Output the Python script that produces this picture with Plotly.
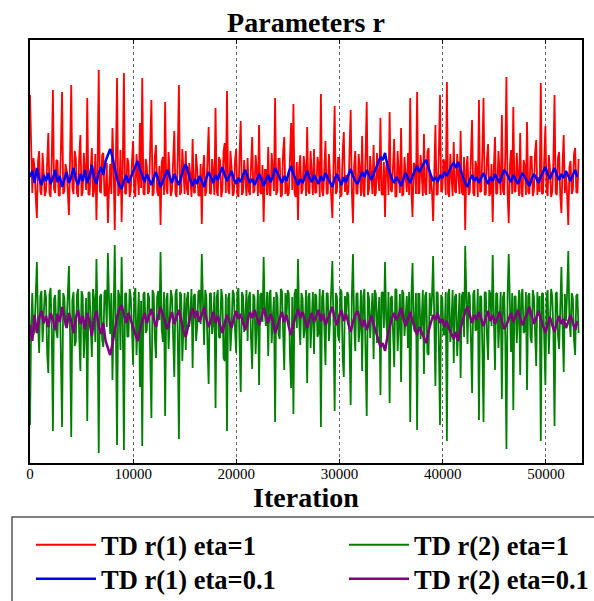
import numpy as np
import plotly.graph_objects as go

# ---------------- data (arbitrary units) ----------------
fine_step = 111          # iterations between samples of the eta=1 series
coarse_step = 222        # iterations between samples of the eta=0.1 series

x_tick_values = [0, 10000, 20000, 30000, 40000, 50000]
x_tick_labels = ["0", "10000", "20000", "30000", "40000", "50000"]

td_r1_eta1 = [
    3.68, 2.98, 2.70, 3.05, 2.95, 2.66, 2.45, 3.02, 3.12, 2.72, 2.68, 3.10, 2.90, 2.67, 2.72, 3.06, 3.30, 2.70, 2.66, 3.04,
    3.73, 2.74, 2.70, 3.03, 3.02, 2.68, 2.67, 3.15, 3.71, 2.69, 2.72, 2.99, 2.92, 2.71, 2.48, 3.06, 3.78, 2.75, 2.69, 3.12,
    3.05, 2.70, 2.66, 3.07, 3.28, 2.67, 2.71, 3.10, 2.88, 2.73, 3.65, 2.69, 2.68, 3.02, 3.15, 2.66, 2.73, 3.09, 2.43, 2.96,
    3.93, 2.72, 2.70, 3.08, 3.10, 2.68, 2.67, 3.00, 2.40, 2.74, 2.99, 2.69, 3.35, 2.95, 2.33, 3.03, 3.85, 2.67, 2.71, 3.13,
    2.41, 2.98, 3.90, 2.70, 2.69, 3.05, 3.00, 2.66, 2.72, 3.01, 3.22, 2.71, 2.66, 3.09, 2.93, 2.68, 3.40, 2.75, 3.85, 2.70,
    2.68, 3.04, 2.97, 2.69, 2.72, 3.12, 3.63, 2.67, 2.70, 3.07, 3.18, 2.72, 2.67, 2.97, 2.38, 3.01, 3.06, 2.68, 3.61, 2.74,
    2.69, 3.11, 2.90, 2.67, 2.73, 3.08, 3.32, 2.70, 2.66, 3.05, 3.78, 2.68, 2.71, 3.14, 2.95, 2.69, 3.12, 2.74, 2.68, 3.00,
    2.87, 2.66, 3.24, 2.71, 2.70, 3.09, 2.94, 2.68, 2.67, 2.99, 2.39, 2.94, 3.08, 2.67, 2.72, 3.10, 3.36, 2.70, 2.69, 3.04,
    2.91, 2.68, 3.55, 2.72, 2.67, 3.06, 3.02, 2.66, 2.73, 3.11, 3.20, 2.70, 3.72, 2.73, 2.69, 3.12, 2.96, 2.67, 2.70, 3.02,
    3.14, 2.69, 2.66, 3.09, 3.42, 2.68, 2.71, 3.03, 2.89, 2.67, 3.05, 2.72, 2.68, 3.07, 3.26, 2.70, 2.72, 3.08, 2.93, 2.67,
    3.38, 2.71, 2.69, 2.98, 2.41, 2.93, 2.93, 2.68, 3.16, 2.70, 2.67, 3.10, 2.88, 2.72, 3.65, 2.68, 2.72, 3.04, 3.04, 2.66,
    2.68, 3.11, 3.26, 2.69, 2.86, 2.67, 2.70, 3.12, 3.40, 2.73, 3.59, 2.70, 2.66, 3.01, 2.43, 2.96, 3.08, 2.69, 2.73, 3.07,
    2.95, 2.67, 3.36, 2.72, 2.69, 3.12, 2.87, 2.68, 3.14, 2.70, 2.71, 3.06, 2.99, 2.66, 3.69, 2.72, 2.67, 3.03, 3.22, 2.69,
    2.70, 3.09, 2.91, 2.67, 2.45, 2.99, 3.57, 2.69, 2.72, 3.05, 3.05, 2.66, 2.68, 3.10, 3.31, 2.71, 2.88, 2.68, 2.71, 3.11,
    3.53, 2.72, 2.40, 2.97, 3.12, 2.70, 2.69, 3.09, 2.94, 2.67, 3.27, 2.71, 2.66, 3.07, 3.61, 2.68, 2.73, 3.07, 2.90, 2.69,
    3.18, 2.67, 2.70, 3.10, 2.85, 2.72, 3.45, 2.69, 2.68, 3.01, 2.46, 2.96, 3.02, 2.68, 3.51, 2.73, 2.71, 3.08, 3.24, 2.66,
    2.67, 3.12, 2.92, 2.70, 3.35, 2.67, 2.69, 3.06, 2.87, 2.71, 3.10, 2.68, 3.65, 2.72, 2.46, 3.00, 2.98, 2.69, 3.71, 2.70,
    2.70, 3.08, 2.90, 2.67, 3.29, 2.71, 2.68, 3.11, 3.15, 2.69, 2.86, 2.72, 2.42, 2.98, 3.38, 2.68, 2.69, 3.10, 3.68, 2.71,
    2.73, 3.04, 3.00, 2.68, 3.81, 2.70, 2.66, 3.09, 2.93, 2.67, 3.21, 2.72, 2.70, 3.09, 2.88, 2.69, 3.32, 2.71, 2.68, 3.06,
    2.33, 2.95, 3.07, 2.68, 2.71, 3.09, 3.43, 2.70, 2.67, 3.02, 2.95, 2.66, 3.63, 2.71, 2.72, 3.11, 3.65, 2.68, 2.69, 3.05,
    3.19, 2.67, 2.70, 2.99, 2.41, 2.94, 3.26, 2.69, 2.70, 3.12, 2.92, 2.68, 3.48, 2.72, 2.68, 3.07, 3.86, 2.70, 2.40, 2.97,
    3.13, 2.69, 3.56, 2.72, 2.71, 3.10, 2.87, 2.67, 3.30, 2.70, 2.66, 3.03, 2.97, 2.68, 3.41, 2.71, 2.69, 3.06, 3.06, 2.67,
    2.72, 3.10, 3.23, 2.68, 2.86, 2.71, 3.80, 2.69, 2.70, 3.08, 3.37, 2.72, 2.67, 3.08, 2.94, 2.66, 2.71, 3.02, 3.68, 2.70,
    2.68, 3.05, 3.11, 2.67, 2.50, 2.98, 3.28, 2.70, 2.90, 2.68, 2.38, 2.96, 3.02, 2.69, 2.73, 3.09, 3.15, 2.71, 2.70, 3.04,
]

td_r1_eta01 = [
    2.86, 2.92, 2.80, 2.95, 2.84, 2.78, 2.88, 2.82, 2.90, 2.79,
    2.85, 2.93, 2.81, 2.87, 2.76, 2.83, 2.91, 2.80, 2.86, 2.95,
    2.84, 2.78, 2.89, 2.82, 2.93, 2.80, 2.87, 2.98, 2.85, 2.79,
    2.90, 2.96, 2.88, 3.02, 3.08, 3.14, 3.06, 2.95, 2.84, 2.78,
    2.74, 2.82, 2.88, 2.80, 2.86, 2.92, 2.97, 3.02, 2.94, 2.87,
    2.81, 2.89, 2.84, 2.78, 2.85, 2.91, 2.83, 2.76, 2.82, 2.88,
    2.93, 2.86, 2.80, 2.89, 2.84, 2.78, 2.86, 2.94, 2.99, 2.90,
    2.83, 2.77, 2.84, 2.79, 2.87, 2.82, 2.76, 2.85, 2.91, 2.86,
    2.80, 2.88, 2.83, 2.90, 2.96, 2.88, 2.82, 2.87, 2.92, 2.84,
    2.79, 2.85, 2.81, 2.88, 2.93, 2.86, 2.80, 2.84, 2.78, 2.83,
    2.89, 2.84, 2.77, 2.83, 2.88, 2.81, 2.86, 2.95, 2.90, 2.84,
    2.80, 2.87, 2.82, 2.91, 2.97, 2.89, 2.83, 2.78, 2.84, 2.80,
    2.86, 2.92, 2.85, 2.81, 2.88, 2.83, 2.79, 2.87, 2.82, 2.90,
    2.85, 2.80, 2.76, 2.84, 2.89, 2.83, 2.78, 2.86, 2.81, 2.88,
    2.94, 2.87, 2.82, 2.79, 2.85, 2.91, 2.86, 2.93, 2.88, 2.83,
    2.89, 2.95, 3.01, 3.06, 3.03, 3.10, 2.98, 2.90, 2.84, 2.80,
    2.86, 2.82, 2.77, 2.84, 2.90, 2.85, 2.80, 2.87, 2.93, 2.97,
    2.91, 2.96, 3.00, 3.03, 2.94, 2.88, 2.82, 2.86, 2.81, 2.88,
    2.85, 2.91, 2.87, 2.93, 2.97, 3.00, 2.95, 3.01, 2.92, 2.86,
    2.80, 2.76, 2.83, 2.88, 2.82, 2.86, 2.80, 2.85, 2.90, 2.84,
    2.79, 2.86, 2.82, 2.89, 2.84, 2.80, 2.87, 2.93, 2.90, 2.85,
    2.81, 2.88, 2.83, 2.79, 2.85, 2.90, 2.86, 2.82, 2.77, 2.84,
    2.89, 2.85, 2.80, 2.86, 2.92, 2.96, 2.89, 2.84, 2.90, 2.95,
    2.88, 2.83, 2.89, 2.85, 2.92, 2.87, 2.82, 2.88, 2.93, 2.86,
]

td_r2_eta1 = [
    0.38, 1.38, 1.70, 1.28, 1.33, 1.74, 2.01, 1.40, 1.10, 1.67, 1.72, 1.21, 1.44, 1.73, 1.66, 1.09, 0.90, 1.69, 1.75, 1.33,
    0.32, 1.64, 1.68, 1.31, 1.25, 1.72, 1.73, 0.98, 0.36, 1.70, 1.65, 1.37, 1.40, 1.68, 1.97, 1.27, 0.26, 1.63, 1.71, 1.17,
    1.21, 1.69, 1.74, 1.25, 0.92, 1.72, 1.67, 1.05, 1.46, 1.65, 0.42, 1.70, 1.71, 1.32, 1.06, 1.74, 1.64, 1.21, 2.04, 1.46,
    0.10, 1.66, 1.69, 1.23, 1.16, 1.71, 1.73, 1.36, 2.10, 1.64, 1.29, 1.70, 0.83, 1.48, 2.18, 1.32, 0.18, 1.73, 1.67, 1.13,
    2.06, 1.38, 0.13, 1.69, 1.70, 1.26, 1.27, 1.74, 1.66, 1.35, 0.98, 1.67, 1.75, 1.08, 1.37, 1.71, 0.76, 1.62, 0.17, 1.69,
    1.71, 1.30, 1.33, 1.70, 1.65, 1.04, 0.45, 1.73, 1.69, 1.25, 1.05, 1.66, 1.72, 1.43, 2.11, 1.34, 1.21, 1.71, 0.47, 1.63,
    1.70, 1.14, 1.43, 1.73, 1.66, 1.19, 0.86, 1.69, 1.74, 1.28, 0.24, 1.71, 1.68, 1.02, 1.35, 1.70, 1.13, 1.64, 1.71, 1.36,
    1.47, 1.74, 0.95, 1.67, 1.69, 1.22, 1.37, 1.71, 1.73, 1.39, 2.09, 1.47, 1.18, 1.73, 1.66, 1.18, 0.79, 1.69, 1.70, 1.29,
    1.41, 1.71, 0.55, 1.66, 1.73, 1.26, 1.25, 1.74, 1.65, 1.05, 1.02, 1.69, 0.32, 1.65, 1.70, 1.12, 1.34, 1.73, 1.69, 1.34,
    1.10, 1.70, 1.75, 1.20, 0.71, 1.71, 1.67, 1.31, 1.44, 1.73, 1.22, 1.66, 1.71, 1.24, 0.94, 1.69, 1.66, 1.09, 1.38, 1.73,
    0.78, 1.68, 1.70, 1.41, 2.06, 1.50, 1.37, 1.71, 1.07, 1.69, 1.73, 1.20, 1.45, 1.66, 0.41, 1.71, 1.66, 1.29, 1.24, 1.74,
    1.72, 1.17, 0.93, 1.70, 1.47, 1.73, 1.69, 1.06, 0.75, 1.66, 0.49, 1.69, 1.74, 1.35, 2.04, 1.43, 1.18, 1.70, 1.65, 1.25,
    1.35, 1.73, 0.80, 1.66, 1.70, 1.15, 1.46, 1.71, 1.09, 1.69, 1.67, 1.26, 1.30, 1.74, 0.36, 1.66, 1.73, 1.30, 0.98, 1.70,
    1.69, 1.22, 1.41, 1.73, 2.02, 1.38, 0.52, 1.70, 1.66, 1.27, 1.22, 1.74, 1.71, 1.06, 0.86, 1.67, 1.45, 1.71, 1.68, 1.18,
    0.58, 1.66, 2.09, 1.40, 1.12, 1.69, 1.70, 1.21, 1.36, 1.73, 0.92, 1.67, 1.74, 1.10, 0.47, 1.71, 1.65, 1.25, 1.42, 1.70,
    1.04, 1.73, 1.69, 1.20, 1.49, 1.66, 0.68, 1.70, 1.71, 1.35, 2.01, 1.44, 1.26, 1.71, 0.60, 1.65, 1.67, 1.24, 0.96, 1.74,
    1.73, 1.12, 1.39, 1.69, 0.81, 1.73, 1.70, 1.27, 1.46, 1.67, 1.15, 1.71, 0.41, 1.66, 2.00, 1.36, 1.31, 1.70, 0.33, 1.69,
    1.69, 1.24, 1.42, 1.73, 0.89, 1.67, 1.71, 1.10, 1.08, 1.70, 1.47, 1.66, 2.07, 1.38, 0.77, 1.71, 1.70, 1.17, 0.38, 1.68,
    1.65, 1.29, 1.28, 1.71, 0.22, 1.69, 1.74, 1.21, 1.38, 1.73, 1.00, 1.66, 1.69, 1.07, 1.45, 1.70, 0.85, 1.67, 1.71, 1.26,
    2.17, 1.45, 1.19, 1.71, 1.67, 1.23, 0.70, 1.69, 1.73, 1.32, 1.35, 1.74, 0.43, 1.67, 1.66, 1.15, 0.41, 1.71, 1.70, 1.27,
    1.03, 1.73, 1.69, 1.37, 2.08, 1.48, 0.93, 1.70, 1.69, 1.15, 1.39, 1.71, 0.64, 1.66, 1.71, 1.25, 0.14, 1.69, 2.09, 1.40,
    1.11, 1.70, 0.53, 1.66, 1.67, 1.20, 1.46, 1.73, 0.88, 1.69, 1.74, 1.30, 1.32, 1.71, 0.73, 1.67, 1.70, 1.26, 1.20, 1.73,
    1.66, 1.18, 0.97, 1.71, 1.47, 1.67, 0.22, 1.70, 1.69, 1.24, 0.78, 1.66, 1.73, 1.09, 1.36, 1.74, 1.67, 1.31, 0.37, 1.69,
    1.71, 1.28, 1.14, 1.73, 1.96, 1.38, 0.91, 1.69, 1.42, 1.71, 2.12, 1.42, 1.26, 1.70, 1.65, 1.23, 1.08, 1.67, 1.69, 1.30,
]

td_r2_eta01 = [
    1.38, 1.22, 1.48, 1.30, 1.45, 1.52, 1.40, 1.47, 1.36, 1.50,
    1.44, 1.33, 1.49, 1.41, 1.56, 1.46, 1.35, 1.50, 1.42, 1.30,
    1.45, 1.53, 1.39, 1.47, 1.34, 1.50, 1.41, 1.27, 1.44, 1.52,
    1.37, 1.29, 1.40, 1.22, 1.14, 1.08, 1.19, 1.32, 1.46, 1.54,
    1.58, 1.48, 1.40, 1.50, 1.43, 1.35, 1.29, 1.22, 1.33, 1.42,
    1.50, 1.40, 1.46, 1.54, 1.44, 1.36, 1.47, 1.56, 1.48, 1.40,
    1.34, 1.43, 1.51, 1.39, 1.46, 1.53, 1.43, 1.32, 1.26, 1.38,
    1.47, 1.55, 1.45, 1.52, 1.41, 1.48, 1.56, 1.44, 1.36, 1.43,
    1.51, 1.40, 1.47, 1.38, 1.30, 1.40, 1.48, 1.42, 1.35, 1.45,
    1.52, 1.44, 1.49, 1.40, 1.33, 1.43, 1.51, 1.45, 1.53, 1.46,
    1.38, 1.45, 1.55, 1.47, 1.40, 1.49, 1.42, 1.30, 1.37, 1.45,
    1.51, 1.41, 1.48, 1.36, 1.28, 1.39, 1.47, 1.54, 1.45, 1.51,
    1.43, 1.35, 1.44, 1.50, 1.41, 1.47, 1.53, 1.42, 1.49, 1.38,
    1.44, 1.51, 1.56, 1.45, 1.38, 1.47, 1.53, 1.42, 1.49, 1.39,
    1.31, 1.41, 1.48, 1.52, 1.44, 1.36, 1.43, 1.33, 1.40, 1.47,
    1.39, 1.31, 1.23, 1.16, 1.20, 1.12, 1.26, 1.37, 1.45, 1.50,
    1.43, 1.48, 1.55, 1.45, 1.37, 1.44, 1.51, 1.42, 1.34, 1.28,
    1.36, 1.30, 1.24, 1.20, 1.32, 1.40, 1.48, 1.43, 1.50, 1.40,
    1.44, 1.36, 1.42, 1.34, 1.28, 1.24, 1.31, 1.22, 1.35, 1.43,
    1.51, 1.56, 1.47, 1.40, 1.48, 1.43, 1.51, 1.44, 1.37, 1.45,
    1.52, 1.42, 1.48, 1.39, 1.46, 1.51, 1.42, 1.34, 1.38, 1.45,
    1.50, 1.41, 1.48, 1.53, 1.45, 1.38, 1.44, 1.49, 1.56, 1.46,
    1.39, 1.45, 1.52, 1.44, 1.36, 1.30, 1.39, 1.46, 1.38, 1.31,
    1.40, 1.47, 1.39, 1.44, 1.35, 1.42, 1.48, 1.40, 1.33, 1.42,
]

series_names = ["TD r(1) eta=1", "TD r(1) eta=0.1", "TD r(2) eta=1", "TD r(2) eta=0.1"]

iter_fine = np.arange(len(td_r1_eta1)) * fine_step
iter_coarse = np.arange(len(td_r1_eta01)) * coarse_step

# ---------------- figure ----------------
SERIF = "Liberation Serif, Times New Roman, serif"
fig = go.Figure()

traces = [
    (iter_fine, td_r1_eta1, series_names[0], "#ff0000", 1.8, "legend"),
    (iter_coarse, td_r1_eta01, series_names[1], "#0000ff", 2.5, "legend3"),
    (iter_fine, td_r2_eta1, series_names[2], "#008000", 1.8, "legend2"),
    (iter_coarse, td_r2_eta01, series_names[3], "#800080", 2.5, "legend4"),
]
for xs, vals, name, color, width, leg in traces:
    fig.add_trace(go.Scatter(
        x=xs, y=vals, mode="lines", name=name,
        line=dict(color=color, width=width),
        legend=leg, hoverinfo="skip",
    ))

W, H = 594, 601
L, R, T, B = 30, 12, 40, 138
pw, ph = W - L - R, H - T - B


def px_x(p):
    return (p - L) / pw


def px_y(p):
    return (H - B - p) / ph


legend_common = dict(
    orientation="v", xanchor="left", yanchor="top",
    bgcolor="rgba(0,0,0,0)", borderwidth=0,
    font=dict(family=SERIF, size=26.5, color="black", weight="bold"),
    itemwidth=60, tracegroupgap=0,
)
col1_x, col2_x = 31, 344
row1_y, row2_y = 521, 555

fig.update_layout(
    width=W, height=H,
    margin=dict(l=L, r=R, t=T, b=B, autoexpand=False),
    paper_bgcolor="white", plot_bgcolor="white",
    font=dict(family=SERIF, color="black"),
    title=dict(
        text="Parameters r", x=0.5, xref="paper", xanchor="center",
        y=1 - 22 / H, yref="container", yanchor="middle",
        font=dict(family=SERIF, size=28, color="black", weight="bold"),
    ),
    xaxis=dict(
        range=[0, 53500], tickvals=x_tick_values, ticktext=x_tick_labels,
        showgrid=True, gridcolor="rgba(0,0,0,0.6)", griddash="dot", gridwidth=1,
        showline=True, linecolor="black", linewidth=1.5, mirror="ticks",
        ticks="inside", ticklen=4, tickcolor="black", zeroline=False,
        tickfont=dict(family=SERIF, size=15, color="black"),
        ticklabelstandoff=-4,
        automargin=True,
        title=dict(text="Iteration", standoff=2,
                   font=dict(family=SERIF, size=28, color="black", weight="bold")),
    ),
    yaxis=dict(
        range=[0, 4.23], showgrid=False, showticklabels=False, ticks="",
        showline=True, linecolor="black", linewidth=1.5, mirror=True, zeroline=False,
        automargin=False,
    ),
    legend=dict(x=px_x(col1_x), y=px_y(row1_y), **legend_common),
    legend3=dict(x=px_x(col1_x), y=px_y(row2_y), **legend_common),
    legend2=dict(x=px_x(col2_x), y=px_y(row1_y), **legend_common),
    legend4=dict(x=px_x(col2_x), y=px_y(row2_y), **legend_common),
    shapes=[dict(
        type="rect", xref="paper", yref="paper",
        x0=px_x(12), x1=px_x(640), y0=px_y(517), y1=px_y(660),
        line=dict(color="#555555", width=1.5), fillcolor="rgba(0,0,0,0)",
        layer="above",
    )],
    showlegend=True,
)

fig.write_html("out.html")
